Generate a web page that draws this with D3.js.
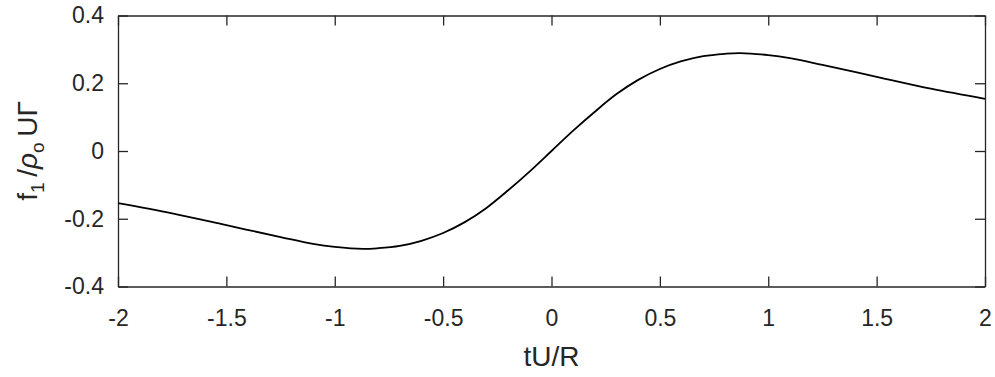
<!DOCTYPE html>
<html lang="en">
<head>
<meta charset="UTF-8">
<title>f1 / rho U Gamma</title>
<style>
    body { margin: 0; background: #fff; }
    svg { display: block; }
</style>
</head>
<body>
<svg id="chart" width="995" height="377"></svg>
<script src="https://cdn.jsdelivr.net/npm/d3@7"></script>
<script>
// values
const tU = [-2, -1.75, -1.5, -1.25, -1.1, -1, -0.87, -0.8, -0.7, -0.6, -0.5, -0.4, -0.3, -0.2, -0.1, 0,
            0.1, 0.2, 0.3, 0.4, 0.5, 0.6, 0.7, 0.8, 0.87, 1, 1.1, 1.25, 1.5, 1.75, 2];
const f1 = [-0.154, -0.184, -0.219, -0.254, -0.274, -0.283, -0.289, -0.287, -0.28, -0.265, -0.242, -0.21, -0.168, -0.116, -0.06, 0,
            0.06, 0.116, 0.168, 0.21, 0.242, 0.265, 0.28, 0.287, 0.289, 0.283, 0.274, 0.254, 0.219, 0.184, 0.154];
const xTicks = [-2, -1.5, -1, -0.5, 0, 0.5, 1, 1.5, 2];
const yTicks = [-0.4, -0.2, 0, 0.2, 0.4];

const data = tU.map((t, i) => ({ t, f: f1[i] }));

const FONT = "'Liberation Sans', Arial, sans-serif";
const INK = "#262626";

const svg = d3.select("#chart");
const mLeft = 118, mRight = 985, mTop = 15.5, mBottom = 286.5;

const x = d3.scaleLinear().domain([-2, 2]).range([mLeft, mRight]);
const y = d3.scaleLinear().domain([-0.4, 0.4]).range([mBottom, mTop]);

function styleAxis(g) {
    g.attr("font-family", FONT).attr("font-size", 23);
    g.selectAll(".domain").attr("stroke", INK).attr("stroke-width", 1.3);
    g.selectAll(".tick line").attr("stroke", INK).attr("stroke-width", 1.3);
    g.selectAll(".tick text").attr("fill", INK);
}

// box + inward ticks
svg.append("g").attr("transform", `translate(0,${mBottom})`)
    .call(d3.axisBottom(x).tickValues(xTicks).tickSizeInner(-10).tickSizeOuter(0).tickPadding(23).tickFormat(d => String(d)))
    .call(styleAxis);
svg.append("g").attr("transform", `translate(0,${mTop})`)
    .call(d3.axisTop(x).tickValues(xTicks).tickSizeInner(-10).tickSizeOuter(0).tickFormat(""))
    .call(styleAxis);
svg.append("g").attr("transform", `translate(${mLeft},0)`)
    .call(d3.axisLeft(y).tickValues(yTicks).tickSizeInner(-10).tickSizeOuter(0).tickPadding(14).tickFormat(d => String(d)))
    .call(styleAxis);
svg.append("g").attr("transform", `translate(${mRight},0)`)
    .call(d3.axisRight(y).tickValues(yTicks).tickSizeInner(-10).tickSizeOuter(0).tickFormat(""))
    .call(styleAxis);

const line = d3.line().x(d => x(d.t)).y(d => y(d.f)).curve(d3.curveCatmullRom.alpha(0.5));
svg.append("path").datum(data)
    .attr("d", line)
    .attr("fill", "none")
    .attr("stroke", "#000")
    .attr("stroke-width", 1.8);

// axis labels
svg.append("text")
    .attr("x", (mLeft + mRight) / 2).attr("y", 366)
    .attr("text-anchor", "middle")
    .attr("font-family", FONT)
    .attr("fill", INK).attr("font-size", 28)
    .text("tU/R");

const yl = svg.append("text")
    .attr("transform", `translate(37,${(mTop + mBottom) / 2}) rotate(-90)`)
    .attr("text-anchor", "middle")
    .attr("font-family", FONT)
    .attr("fill", INK).attr("font-size", 28);
yl.append("tspan").text("f");
yl.append("tspan").attr("font-size", 19).attr("dy", 7).text("1");
yl.append("tspan").attr("dy", -7).text("\u2009/");
yl.append("tspan").attr("font-style", "italic").text("ρ");
yl.append("tspan").attr("font-size", 19).attr("dy", 7).text("o");
yl.append("tspan").attr("dy", -7).text("\u2009UΓ");
</script>
</body>
</html>
